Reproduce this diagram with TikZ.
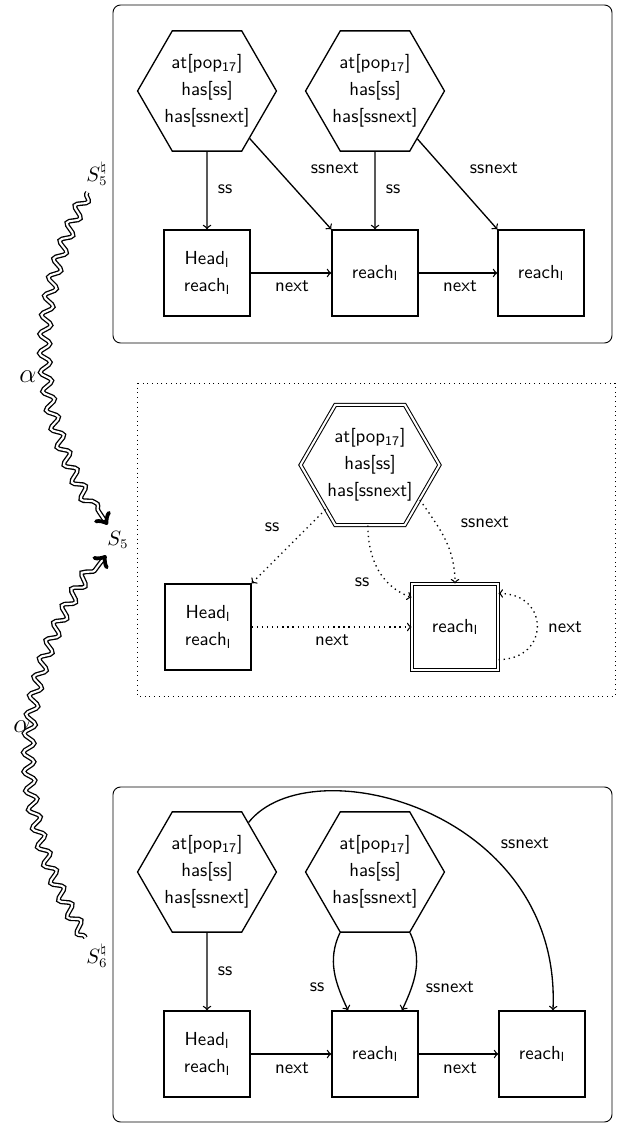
\documentclass[tikz,border=0pt]{standalone}
\usetikzlibrary{shapes.geometric,decorations.pathmorphing}
\newcommand\hextxt{at[pop$_{\mathsf{17}}$]\\[2.3pt]has[ss]\\[2.3pt]has[ssnext]}
\newcommand\headtxt{Head$_{\mathsf{l}}$\\[2.3pt]reach$_{\mathsf{l}}$}
\newcommand\reachtxt{reach$_{\mathsf{l}}$}
\tikzset{
  hexn/.style={regular polygon, regular polygon sides=6, draw, line width=0.7pt,
    minimum size=71.6pt, inner sep=0pt, align=center, font=\sffamily},
  boxn/.style={rectangle, draw, line width=0.7pt, minimum size=45.6pt,
    inner sep=0pt, align=center, font=\sffamily},
  dbl/.style={double, double distance=1.1pt, line width=0.55pt},
  lbl/.style={font=\sffamily, inner sep=1pt},
  arr/.style={->, line width=0.7pt},
  panel/.style={draw, line width=0.5pt, rounded corners=4pt},
  dpanel/.style={draw, line width=0.5pt, dotted},
  statelbl/.style={font=\fontsize{10.5}{12}\selectfont},
  alphalbl/.style={font=\fontsize{15}{17}\selectfont},
  wavy/.style={->, double, double distance=1.1pt, line width=0.7pt, decorate,
    decoration={snake, amplitude=2.8pt, segment length=10pt, post length=7pt, pre length=1pt}}
}
\begin{document}
\begin{tikzpicture}[x=0.53pt, y=-0.53pt]
\useasboundingbox (0,0) rectangle (618,1124);

% panels
\draw[panel] (113,5) rectangle (612,343);
\draw[dpanel] (137,383) rectangle (615,696);
\draw[panel] (113,787) rectangle (612,1122);

% top panel
\node[hexn] (TH1) at (207,91) {\hextxt};
\node[hexn] (TH2) at (375,91) {\hextxt};
\node[boxn] (TB1) at (207,273) {\headtxt};
\node[boxn] (TB2) at (375,273) {\reachtxt};
\node[boxn] (TB3) at (541,273) {\reachtxt};
\draw[arr] (TH1) -- (TB1);
\draw[arr] (TH1) -- (TB2.north west);
\draw[arr] (TH2) -- (TB2);
\draw[arr] (TH2) -- (TB3.north west);
\draw[arr] (TB1) -- (TB2);
\draw[arr] (TB2) -- (TB3);
\node[lbl] (tl1) at (225,189) {ss};
\node[lbl] (tl2) at (335,168) {ssnext};
\node[lbl] (tl3) at (393,189) {ss};
\node[lbl] (tl4) at (494,168) {ssnext};
\node[lbl] (tl5) at (292,286) {next};
\node[lbl] (tl6) at (460,286) {next};

% middle panel
\node[hexn, dbl] (MH) at (370,465) {\hextxt};
\node[boxn] (MHd) at (208,627) {\headtxt};
\node[boxn, dbl] (MR) at (455,627) {\reachtxt};
\draw[arr, dotted] (MH) -- (MHd.north east);
\draw[arr, dotted] (MH.-92) to[out=-90, in=160] ([yshift=-7.4pt]MR.north west);
\draw[arr, dotted] (MH.-35) to[out=-55, in=90] (MR.north);
\draw[arr, dotted] (MHd) -- (MR);
\draw[arr, dotted] ([yshift=5.8pt]MR.south east) to[out=0, in=0, looseness=2] ([yshift=-5.3pt]MR.north east);
\node[lbl] (ml1) at (272,527) {ss};
\node[lbl] (ml2) at (362,582) {ss};
\node[lbl] (ml3) at (485,522) {ssnext};
\node[lbl] (ml4) at (332,640) {next};
\node[lbl] (ml5) at (565,627) {next};

% bottom panel
\node[hexn] (BH1) at (207,872) {\hextxt};
\node[hexn] (BH2) at (375,872) {\hextxt};
\node[boxn] (BB1) at (207,1054) {\headtxt};
\node[boxn] (BB2) at (375,1054) {\reachtxt};
\node[boxn] (BB3) at (542,1054) {\reachtxt};
\draw[arr] (BH1) -- (BB1);
\draw[arr] (BH1.50) .. controls (310,745) and (562,810) .. ([xshift=5.8pt]BB3.north);
\draw[arr] (BH2.240) to[out=-115, in=115] ([xshift=-14.3pt]BB2.north);
\draw[arr] (BH2.300) to[out=-65, in=65] ([xshift=14.3pt]BB2.north);
\draw[arr] (BB1) -- (BB2);
\draw[arr] (BB2) -- (BB3);
\node[lbl] (bl1) at (225,971) {ss};
\node[lbl] (bl2) at (525,843) {ssnext};
\node[lbl] (bl3) at (317,987) {ss};
\node[lbl] (bl4) at (450,987) {ssnext};
\node[lbl] (bl5) at (292,1068) {next};
\node[lbl] (bl6) at (460,1068) {next};

% left: states and wavy arrows
\node[statelbl] (S5a) at (97,174) {$S^{\natural}_{5}$};
\node[statelbl] (S5) at (118,540) {$S_{5}$};
\node[statelbl] (S6a) at (97,956) {$S^{\natural}_{6}$};
\node[alphalbl] (al1) at (28,377) {$\alpha$};
\node[alphalbl] (al2) at (22,727) {$\alpha$};
\draw[wavy] (S5a) to[bend right=31] (S5);
\draw[wavy] (S6a) to[bend left=35] (S5);
\end{tikzpicture}
\end{document}
